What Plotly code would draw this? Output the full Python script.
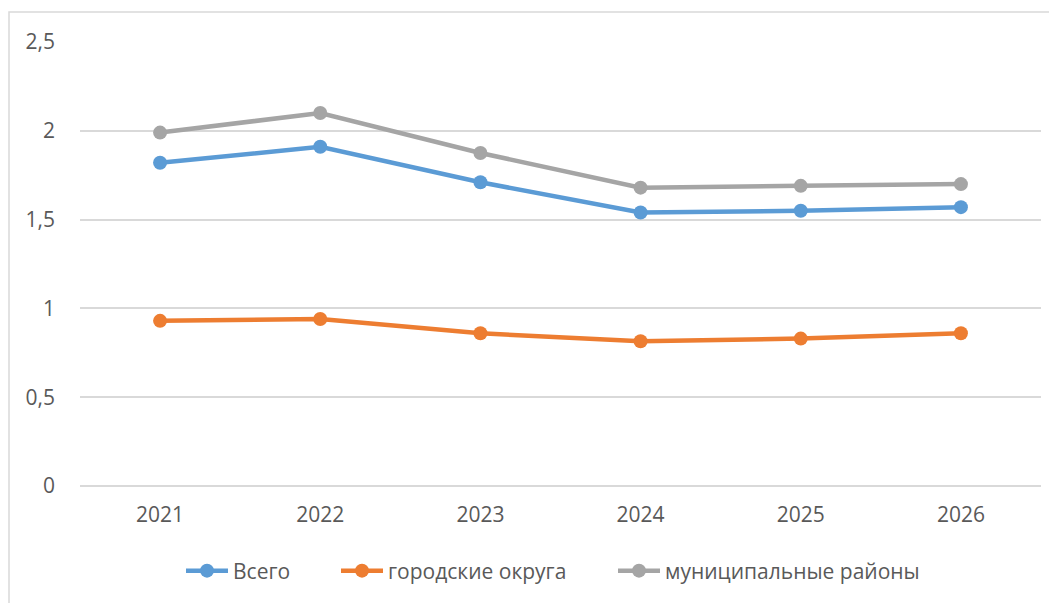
import plotly.graph_objects as go

years = ["2021", "2022", "2023", "2024", "2025", "2026"]
vsego = [1.82, 1.91, 1.71, 1.54, 1.55, 1.57]
gorod = [0.93, 0.94, 0.86, 0.815, 0.83, 0.86]
munic = [1.99, 2.10, 1.875, 1.68, 1.69, 1.70]

names = ["Всего", "городские округа", "муниципальные районы"]
colors = ["#5B9BD5", "#ED7D31", "#A5A5A5"]

# page has an 8px body margin; work in screen pixels and convert
OFF = 8
W, H = 1057, 603
l, r, t, b = 80 - OFF, 1057 - 1041 + OFF, 42 - OFF, 603 - 486 + OFF
pw, ph = W - l - r, H - t - b

def px(xs):
    return (xs - OFF - l) / pw

def py(ys):
    return (H - b - (ys - OFF)) / ph

legend_names = ["legend", "legend2", "legend3"]
marker_centers = [201, 356, 633]

fig = go.Figure()
for name, vals, c, lg in zip(names, [vsego, gorod, munic], colors, legend_names):
    fig.add_trace(go.Scatter(
        x=years, y=vals, name=name, mode="lines+markers",
        line=dict(color=c, width=4.5),
        marker=dict(color=c, size=14),
        legend=lg,
    ))

legend_font = dict(family="Open Sans", size=21, color="#595959")
legends = {}
for lg, mc in zip(legend_names, marker_centers):
    legends[lg] = dict(x=px(mc - 20), xanchor="left", y=py(571), yanchor="middle",
                       font=legend_font, bgcolor="rgba(0,0,0,0)", itemwidth=42)

fig.update_layout(
    width=W, height=H,
    margin=dict(l=l, r=r, t=t, b=b, autoexpand=False),
    paper_bgcolor="white", plot_bgcolor="white",
    separators=", ",
    font=dict(family="Open Sans", size=22, color="#595959"),
    showlegend=True,
    **legends,
    xaxis=dict(type="category", range=[-0.5, 5.5], showgrid=False, showline=False,
               zeroline=False, ticks="", ticklabelstandoff=14, automargin=False,
               tickfont=dict(family="Open Sans", size=21, color="#595959")),
    yaxis=dict(range=[0, 2.5], dtick=0.5, tick0=0, showgrid=True, gridcolor="#D9D9D9",
               gridwidth=1.5, zeroline=True, zerolinecolor="#D9D9D9", zerolinewidth=1.5,
               showline=False, ticks="", ticklabelstandoff=24, automargin=False,
               tickfont=dict(family="Open Sans", size=21, color="#595959")),
    shapes=[dict(type="rect", xref="paper", yref="paper",
                 x0=px(9), x1=px(1075), y0=py(625), y1=py(12),
                 line=dict(color="#D9D9D9", width=1.5), fillcolor="rgba(0,0,0,0)",
                 layer="below")],
)

fig.write_html("out.html")
